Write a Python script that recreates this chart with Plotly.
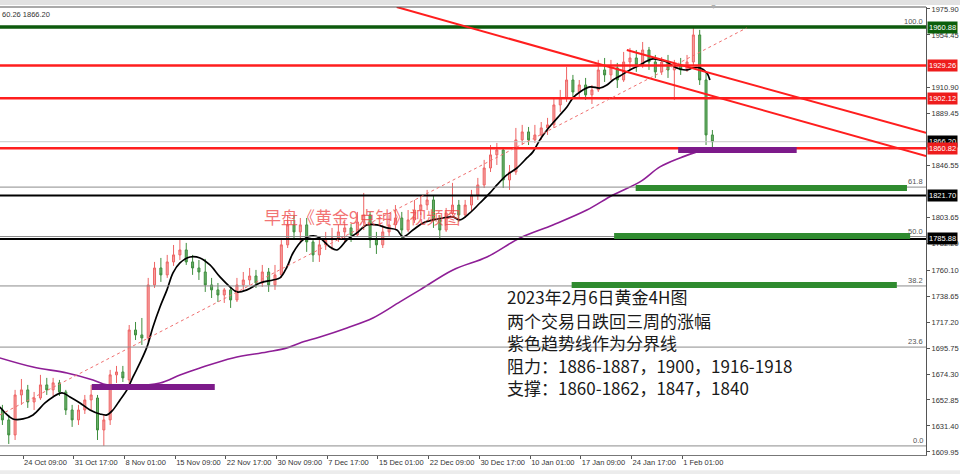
import plotly.graph_objects as go

# ---------------- data ----------------
# one candle per 16 hours (4 x 4H bars); x = candle number
opens = [1644.6, 1636.4, 1624.0, 1657.0, 1661.2, 1651.2, 1654.5, 1665.3, 1661.2, 1667.0,
         1659.5, 1644.6, 1636.4, 1644.6, 1652.9, 1654.5, 1628.1, 1636.4, 1673.6, 1676.0,
         1669.4, 1710.7, 1706.6, 1704.1, 1747.9, 1761.9, 1756.2, 1766.9, 1772.7, 1776.8,
         1766.9, 1761.9, 1758.6, 1747.9, 1743.8, 1739.6, 1743.8, 1735.5, 1747.9, 1752.0,
         1755.3, 1749.5, 1758.6, 1747.9, 1756.2, 1781.0, 1797.5, 1791.7, 1797.5, 1783.4,
         1772.7, 1781.0, 1785.1, 1786.7, 1791.7, 1795.0, 1789.2, 1799.9, 1805.7, 1785.1,
         1781.0, 1791.7, 1797.5, 1803.2, 1793.3, 1801.6, 1809.8, 1814.0, 1818.1, 1801.6,
         1793.3, 1807.4, 1813.9, 1805.7, 1813.9, 1822.2, 1830.5, 1844.5, 1855.3, 1859.4,
         1834.6, 1841.2, 1867.7, 1874.3, 1867.7, 1871.8, 1877.6, 1880.1, 1896.6, 1902.4,
         1917.2, 1907.3, 1913.1, 1904.9, 1909.0, 1925.5, 1921.4, 1927.2, 1917.2, 1932.1,
         1935.4, 1929.6, 1942.0, 1932.1, 1923.9, 1932.1, 1925.5, 1929.6, 1925.5, 1932.1,
         1954.4, 1917.2, 1871.8]
highs = [1648.8, 1640.5, 1661.2, 1670.2, 1665.3, 1659.5, 1673.6, 1671.1, 1671.1, 1669.4,
         1661.2, 1648.8, 1648.8, 1657.0, 1665.3, 1657.0, 1640.5, 1677.7, 1681.0, 1681.0,
         1714.8, 1717.3, 1720.6, 1753.7, 1766.9, 1770.2, 1772.7, 1780.9, 1785.1, 1782.6,
         1772.7, 1768.5, 1769.4, 1753.7, 1749.5, 1745.4, 1746.3, 1753.7, 1758.6, 1761.9,
         1760.3, 1764.4, 1761.9, 1764.4, 1786.7, 1805.7, 1805.7, 1803.2, 1803.2, 1785.1,
         1787.6, 1791.7, 1795.0, 1797.5, 1800.0, 1798.3, 1808.2, 1823.9, 1808.2, 1791.7,
         1797.5, 1805.7, 1813.9, 1808.2, 1809.8, 1818.1, 1822.2, 1826.4, 1822.2, 1805.7,
         1811.5, 1832.2, 1818.1, 1818.1, 1826.4, 1836.3, 1851.2, 1863.5, 1865.2, 1861.1,
         1847.0, 1877.6, 1880.1, 1878.4, 1880.1, 1882.5, 1885.9, 1902.4, 1909.0, 1928.0,
         1921.4, 1917.2, 1918.9, 1913.1, 1933.8, 1935.4, 1933.8, 1931.3, 1940.4, 1943.7,
         1942.0, 1948.6, 1944.5, 1937.9, 1936.2, 1937.9, 1933.8, 1935.4, 1937.9, 1960.9,
         1958.6, 1923.9, 1875.9]
lows = [1632.2, 1616.5, 1619.8, 1648.8, 1646.3, 1644.6, 1652.9, 1657.0, 1656.2, 1656.2,
        1640.5, 1630.6, 1632.2, 1641.3, 1644.6, 1619.8, 1614.9, 1632.2, 1666.9, 1667.7,
        1665.3, 1702.4, 1698.3, 1700.8, 1745.4, 1750.4, 1753.7, 1763.6, 1768.5, 1764.4,
        1756.2, 1752.0, 1742.1, 1737.1, 1733.8, 1733.0, 1728.9, 1733.8, 1743.8, 1747.9,
        1745.4, 1746.3, 1742.1, 1743.8, 1753.7, 1778.4, 1785.1, 1783.4, 1775.2, 1766.9,
        1766.9, 1776.8, 1776.8, 1783.4, 1783.4, 1783.4, 1787.6, 1793.3, 1778.4, 1773.5,
        1778.4, 1788.4, 1793.3, 1785.1, 1791.7, 1799.1, 1805.7, 1809.8, 1795.0, 1785.1,
        1791.7, 1805.7, 1799.9, 1803.2, 1808.2, 1818.1, 1828.0, 1841.2, 1847.0, 1828.0,
        1826.4, 1838.8, 1863.5, 1863.5, 1865.2, 1867.7, 1871.8, 1877.6, 1890.8, 1899.1,
        1902.4, 1902.4, 1900.7, 1897.4, 1907.3, 1915.6, 1917.2, 1910.6, 1915.6, 1925.5,
        1923.9, 1927.2, 1925.5, 1918.9, 1921.4, 1918.9, 1900.7, 1921.4, 1923.9, 1929.6,
        1913.1, 1863.5, 1860.3]
closes = [1636.4, 1624.0, 1657.0, 1661.2, 1651.2, 1654.5, 1665.3, 1661.2, 1667.0, 1659.5,
          1644.6, 1636.4, 1644.6, 1652.9, 1657.0, 1628.1, 1636.4, 1673.6, 1676.0, 1671.1,
          1710.7, 1706.6, 1704.1, 1747.9, 1761.9, 1756.2, 1766.9, 1772.7, 1776.8, 1766.9,
          1761.9, 1758.6, 1747.9, 1743.8, 1739.6, 1743.8, 1735.5, 1747.9, 1752.0, 1755.3,
          1749.5, 1758.6, 1747.9, 1756.2, 1781.0, 1797.5, 1791.7, 1797.5, 1783.4, 1772.7,
          1781.0, 1785.1, 1786.7, 1791.7, 1795.0, 1789.2, 1799.9, 1805.7, 1785.1, 1781.0,
          1791.7, 1797.5, 1803.2, 1793.3, 1801.6, 1809.8, 1814.0, 1818.1, 1801.6, 1793.3,
          1807.4, 1813.9, 1805.7, 1813.9, 1822.2, 1830.5, 1844.5, 1855.3, 1859.4, 1834.6,
          1841.2, 1867.7, 1874.3, 1867.7, 1871.8, 1877.6, 1880.1, 1896.6, 1902.4, 1917.2,
          1907.3, 1913.1, 1904.9, 1909.0, 1925.5, 1921.4, 1927.2, 1917.2, 1932.1, 1935.4,
          1929.6, 1942.0, 1932.1, 1923.9, 1932.1, 1925.5, 1929.6, 1925.5, 1932.1, 1954.4,
          1917.2, 1871.8, 1866.2]
candle_x = list(range(len(closes)))

# black moving average (x in candle numbers, price)
ma_black_x = [-0.4, 1.67, 3.25, 4.83, 6.72, 7.98, 9.40, 10.66, 12.24, 13.82, 15.39, 16.50,
              17.44, 18.55, 19.65, 20.60, 21.70, 22.81, 23.75, 24.86, 25.96, 26.91, 28.01,
              29.59, 31.17, 32.74, 34.32, 35.90, 37.00, 38.58, 40.63, 42.68, 43.79, 44.89,
              45.84, 47.41, 48.99, 50.09, 51.67, 52.78, 54.35, 55.93, 57.51, 59.09, 60.66,
              62.24, 63.19, 64.76, 66.34, 67.92, 69.50, 71.07, 72.18, 73.75, 75.33, 76.91,
              78.01, 79.59, 81.17, 82.74, 83.69, 84.79, 85.90, 86.84, 87.95, 89.05, 90.00,
              91.10, 92.68, 94.26, 95.36, 96.31, 97.41, 98.99, 100.57, 101.67, 102.62,
              103.72, 104.83, 105.77, 106.88, 107.98, 108.93, 110.03, 111.14, 111.61]
ma_black_y = [1647.1, 1637.2, 1637.2, 1640.5, 1650.4, 1655.4, 1658.7, 1655.4, 1650.4, 1644.6,
              1641.3, 1640.5, 1644.6, 1652.9, 1661.2, 1671.9, 1683.5, 1696.7, 1713.2, 1729.7,
              1743.8, 1757.8, 1766.1, 1771.0, 1770.2, 1764.4, 1754.5, 1746.3, 1742.1, 1743.8,
              1749.5, 1752.0, 1753.7, 1762.7, 1774.3, 1785.1, 1788.4, 1786.7, 1779.3, 1776.8,
              1785.1, 1790.9, 1797.5, 1797.5, 1795.0, 1793.3, 1787.6, 1793.3, 1799.1, 1801.6,
              1803.2, 1804.1, 1801.6, 1807.4, 1815.6, 1823.9, 1830.5, 1838.8, 1844.5, 1852.8,
              1857.8, 1867.7, 1875.9, 1881.7, 1888.3, 1894.9, 1902.4, 1907.3, 1911.5, 1910.6,
              1913.1, 1917.2, 1920.5, 1925.5, 1929.6, 1932.9, 1934.6, 1933.8, 1932.1, 1928.8,
              1926.3, 1925.5, 1927.2, 1927.2, 1923.0, 1917.2]

# purple (long) moving average
ma_purple_x = [-0.4, 4.83, 10.19, 14.29, 16.50, 20.60, 24.86, 28.01, 31.17, 36.37, 41.73,
               44.89, 46.94, 50.09, 54.35, 58.45, 62.71, 65.87, 71.07, 76.44, 81.64, 86.84,
               92.20, 96.31, 100.57, 103.72, 106.88, 109.56, 110.50]
ma_purple_y = [1687.6, 1680.1, 1675.2, 1669.4, 1665.3, 1664.5, 1666.9, 1673.5, 1679.3, 1687.6,
               1692.5, 1695.9, 1700.0, 1704.9, 1712.4, 1720.6, 1733.9, 1743.8, 1760.3, 1771.0,
               1786.7, 1797.5, 1809.8, 1822.2, 1833.0, 1845.4, 1852.8, 1857.8, 1859.4]

# x-axis labels (every 8 candles)
x_labels = ["24 Oct 09:00", "31 Oct 17:00", "8 Nov 01:00", "15 Nov 09:00", "22 Nov 17:00",
            "30 Nov 09:00", "7 Dec 17:00", "15 Dec 01:00", "22 Dec 09:00", "30 Dec 17:00",
            "10 Jan 01:00", "17 Jan 09:00", "24 Jan 17:00", "1 Feb 01:00"]
x_label_pos = [3.25 + 8 * i for i in range(len(x_labels))]

# y-axis tick labels (the ones hidden behind price tags are left out)
y_ticks = [1975.90, 1954.45, 1910.90, 1889.45, 1846.55, 1803.65,
           1782.20, 1760.10, 1738.65, 1717.20, 1695.75, 1674.30, 1652.85, 1631.40, 1609.95]

# horizontal levels
red_levels = [1929.26, 1902.12, 1860.82]
black_levels = [1821.70, 1785.88]
green_level = 1960.88
bid_price = 1866.20
fib_low, fib_high = 1614.9, 1960.88
fib_ratios = [0.0, 23.6, 38.2, 50.0, 61.8, 100.0]

price_tags = [(1960.88, "#0b5e0b"), (1929.26, "#ee1c1c"), (1902.12, "#ee1c1c"),
              (1866.20, "#000000"), (1860.82, "#ee1c1c"), (1821.70, "#000000"),
              (1785.88, "#000000")]

text_lines = ["2023年2月6日黄金4H图", "两个交易日跌回三周的涨幅", "紫色趋势线作为分界线",
              "阻力：1886-1887，1900，1916-1918", "支撑：1860-1862，1847，1840"]
text_line_y = [1738.0, 1718.6, 1700.5, 1681.5, 1663.3]

# ---------------- figure ----------------
FONT = "Liberation Sans"
CJK = "Noto Sans CJK SC"
fig = go.Figure()

fig.add_trace(go.Candlestick(
    x=candle_x, open=opens, high=highs, low=lows, close=closes,
    increasing=dict(line=dict(color="#ee6464", width=1), fillcolor="#f5a3a3"),
    decreasing=dict(line=dict(color="#3e8e3e", width=1), fillcolor="#6cb06c"),
    whiskerwidth=0, showlegend=False, hoverinfo="skip"))

fig.add_trace(go.Scatter(x=ma_purple_x, y=ma_purple_y, mode="lines",
                         line=dict(color="#8e1e96", width=1.6, shape="spline"),
                         showlegend=False, hoverinfo="skip"))
fig.add_trace(go.Scatter(x=ma_black_x, y=ma_black_y, mode="lines",
                         line=dict(color="#000000", width=1.7, shape="spline"),
                         showlegend=False, hoverinfo="skip"))

def hline(y, color, width, dash="solid"):
    fig.add_shape(type="line", xref="paper", x0=0, x1=1, yref="y", y0=y, y1=y,
                  line=dict(color=color, width=width, dash=dash))

# fibonacci gray lines
fib_vals = [fib_low + r / 100.0 * (fib_high - fib_low) for r in fib_ratios]
for v in fib_vals:
    hline(v, "#8c8c8c", 1)
hline(bid_price, "#c8c8c8", 1)
for v in black_levels:
    hline(v, "#000000", 2)
for v in red_levels:
    hline(v, "#ff1e1e", 2.5)
hline(green_level, "#0d5a0d", 3.5)

# red trend lines
fig.add_shape(type="line", xref="x", yref="y", x0=62.2, y0=1977.5, x1=145.7, y1=1854.3,
              line=dict(color="#ff1e1e", width=2))
fig.add_shape(type="line", xref="x", yref="y", x0=98.5, y0=1942.0, x1=145.7, y1=1873.5,
              line=dict(color="#ff1e1e", width=2))
# dotted fib connector
fig.add_shape(type="line", xref="x", yref="y", x0=-0.4, y0=1640.5, x1=117.4, y1=1960.2,
              line=dict(color="#f07070", width=1, dash="dot"))

# thick marker strokes
for x0, x1, y in [(99.9, 142.7, 1828.0), (96.5, 143.2, 1788.4), (89.8, 141.1, 1747.9)]:
    fig.add_shape(type="line", xref="x", yref="y", x0=x0, x1=x1, y0=y, y1=y,
                  line=dict(color="#2f8b2f", width=6))
for x0, x1, y in [(14.1, 33.5, 1663.6), (106.6, 125.3, 1859.4)]:
    fig.add_shape(type="line", xref="x", yref="y", x0=x0, x1=x1, y0=y, y1=y,
                  line=dict(color="#7d1a8a", width=6))

# fib labels
for r, v in zip(fib_ratios, fib_vals):
    fig.add_annotation(x=1, xref="paper", xanchor="right", y=v, yref="y", yanchor="bottom",
                       text=f"{r:.1f}", showarrow=False, xshift=-1, yshift=-1,
                       font=dict(family=FONT, size=7.5, color="#555555"))

# price tags on the right axis
for v, col in price_tags:
    fig.add_annotation(x=1, xref="paper", xanchor="left", y=v, yref="y", yanchor="middle",
                       text=f"{v:.2f}", showarrow=False, bgcolor=col, borderpad=1, xshift=1,
                       font=dict(family=FONT, size=7.5, color="#ffffff"))

# header text
fig.add_annotation(x=0, xref="paper", xanchor="left", y=0.984, yref="paper", yanchor="middle",
                   text="60.26 1866.20", showarrow=False,
                   font=dict(family=FONT, size=7.5, color="#333333"))
# chart shift marker
fig.add_annotation(x=112.1, xref="x", y=1.002, yref="paper", yanchor="middle", text="▼",
                   showarrow=False, font=dict(size=7, color="#b0b0b0"))

# watermark
fig.add_annotation(x=40.9, xref="x", xanchor="left", y=1804.1, yref="y", yanchor="middle",
                   text="早盘《黄金9点钟》视频图", showarrow=False,
                   font=dict(family=CJK, size=17, color="rgba(238,70,70,0.75)"))

# commentary text
for t, yv in zip(text_lines, text_line_y):
    fig.add_annotation(x=79.3, xref="x", xanchor="left", y=yv, yref="y", yanchor="middle",
                       text=t, showarrow=False,
                       font=dict(family=CJK, size=17, color="#1a1a1a"))

# window chrome
fig.add_shape(type="rect", xref="paper", yref="paper", x0=-0.01, x1=1.05, y0=1.0045, y1=1.02,
              fillcolor="#e2e2e2", line=dict(width=0), layer="below")
fig.add_shape(type="line", xref="paper", yref="paper", x0=0, x1=1, y0=1, y1=1,
              line=dict(color="#555555", width=1))
fig.add_shape(type="rect", xref="paper", yref="paper", x0=-0.01, x1=1.05, y0=-0.045, y1=-0.034,
              fillcolor="#ececec", line=dict(width=0), layer="below")

fig.update_layout(
    width=960, height=474,
    margin=dict(l=0, r=34, t=7, b=19),
    paper_bgcolor="#ffffff", plot_bgcolor="#ffffff",
    boxgap=0.55,
    showlegend=False,
    xaxis=dict(range=[-0.38, 145.7], rangeslider=dict(visible=False),
               tickvals=x_label_pos, ticktext=x_labels, ticklabelposition="outside right",
               tickangle=0,
               ticks="outside", ticklen=3, tickcolor="#555555",
               showgrid=False, zeroline=False, showline=True, linecolor="#777777", linewidth=1,
               tickfont=dict(family=FONT, size=7.5, color="#333333"), automargin=False),
    yaxis=dict(range=[1607.4, 1977.5], side="right", tickvals=y_ticks,
               ticktext=[f"{v:.2f}" for v in y_ticks],
               ticks="outside", ticklen=3, tickcolor="#555555",
               showgrid=False, zeroline=False, showline=True, linecolor="#555555", linewidth=1,
               tickfont=dict(family=FONT, size=7.5, color="#333333"), automargin=False),
)

fig.write_html("out.html", config={"displayModeBar": False},
               post_script="document.body.style.margin='0px';")
